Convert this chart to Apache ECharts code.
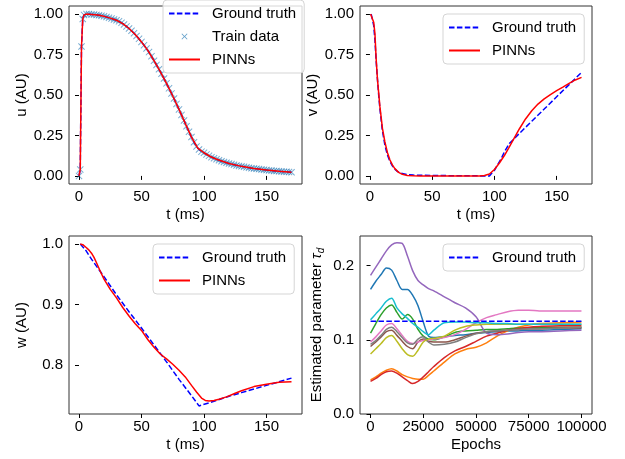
<!DOCTYPE html>
<html>
<head>
<meta charset="utf-8">
<script src="https://cdn.jsdelivr.net/npm/echarts@6/dist/echarts.min.js"></script>
<style>
  body { margin: 0; background: #fff; }
  #chart { width: 625px; height: 459px; }
</style>
</head>
<body>
<div id="chart"></div>
<script>
// u(t): ground truth / train samples
const tU = [0, 1, 2, 3, 4, 6, 8, 10, 12, 14, 16, 18, 20, 22, 24, 26, 28, 30, 32, 34, 36, 38, 40, 42, 44, 46, 48, 50,
  52, 54, 56, 58, 60, 62, 64, 66, 68, 70, 72, 74, 76, 78, 80, 82, 84, 86, 88, 90, 92, 94, 96, 98, 100,
  102, 104, 106, 108, 110, 112, 114, 116, 118, 120, 122, 124, 126, 128, 130, 132, 134, 136, 138, 140,
  142, 144, 146, 148, 150, 152, 154, 156, 158, 160, 162, 164, 166, 168, 170]
const uTrue = [0, 0.04, 0.80, 0.97, 0.995, 1.0, 1.0, 0.998, 0.997, 0.995, 0.993, 0.99, 0.986, 0.982, 0.977, 0.972, 0.967, 0.962, 0.955, 0.946, 0.936, 0.924, 0.911, 0.897, 0.882, 0.865, 0.847, 0.828,
  0.808, 0.787, 0.765, 0.740, 0.712, 0.686, 0.659, 0.631, 0.602, 0.572, 0.541, 0.510, 0.478, 0.445, 0.411, 0.377, 0.342, 0.307, 0.273, 0.240, 0.208, 0.182, 0.163, 0.150, 0.143,
  0.133, 0.124, 0.116, 0.109, 0.103, 0.097, 0.091, 0.086, 0.081, 0.077, 0.073, 0.069, 0.065, 0.062, 0.059, 0.056, 0.053, 0.050, 0.048, 0.046,
  0.044, 0.042, 0.040, 0.038, 0.036, 0.034, 0.033, 0.031, 0.030, 0.029, 0.027, 0.026, 0.025, 0.024, 0.023]
const tUp = [0, 1, 2, 3, 4, 6, 10, 15, 20, 25, 30, 35, 40, 45, 50, 55, 60, 65, 70, 75, 80, 85, 90, 95, 100, 105, 110, 120, 130, 140, 150, 160, 170]
const uPinn = [0, 0.04, 0.8, 0.97, 0.995, 1.0, 0.998, 0.994, 0.986, 0.975, 0.962, 0.941, 0.911, 0.874, 0.828, 0.776, 0.712, 0.645, 0.572, 0.494, 0.411, 0.325, 0.240, 0.172, 0.143, 0.120, 0.103, 0.077, 0.059, 0.046, 0.036, 0.029, 0.023]

// v(t)
const tV = [1, 2, 3, 4, 5, 6, 7, 8, 10, 12, 14, 16, 18, 20, 22, 25, 30, 35, 40, 50, 60, 70, 80, 90, 96, 100, 105, 108, 112, 120, 130, 140, 150, 160, 170]
const vTrue = [1.0, 1.0, 0.93, 0.84, 0.71, 0.6, 0.5, 0.415, 0.28, 0.19, 0.13, 0.09, 0.062, 0.042, 0.028, 0.016, 0.008, 0.005, 0.004, 0.003, 0.002, 0.001, 0.001, 0.0, 0.0, 0.035, 0.1, 0.148, 0.2, 0.262, 0.338, 0.413, 0.489, 0.564, 0.64]
const tVp = [0.5, 2, 3, 4, 5, 6, 8, 10, 12, 14, 16, 18, 20, 23, 26, 30, 35, 40, 50, 60, 70, 80, 88, 92, 96, 100, 104, 108, 112, 116, 120, 125, 130, 135, 140, 145, 150, 155, 160, 165, 170]
const vPinn = [1.0, 0.995, 0.95, 0.88, 0.72, 0.6, 0.428, 0.295, 0.21, 0.145, 0.1, 0.068, 0.045, 0.022, 0.01, 0.003, 0.001, 0, 0, 0, 0, 0, 0, 0.003, 0.012, 0.04, 0.08, 0.126, 0.18, 0.235, 0.29, 0.352, 0.403, 0.444, 0.476, 0.503, 0.527, 0.549, 0.572, 0.593, 0.609]

// w(t)
const tW = [1, 5, 10, 20, 30, 40, 50, 60, 70, 80, 90, 96, 110, 120, 130, 140, 150, 160, 170]
const wTrue = [1.0, 0.991, 0.975, 0.946, 0.916, 0.888, 0.861, 0.833, 0.805, 0.776, 0.749, 0.732, 0.741, 0.748, 0.754, 0.760, 0.766, 0.772, 0.778]
const tWp = [1, 3, 6, 8, 10, 12, 14, 17, 20, 25, 30, 35, 40, 45, 50, 55, 60, 65, 70, 75, 80, 85, 90, 94, 98, 101, 104, 108, 112, 118, 125, 130, 140, 150, 160, 170]
const wPinn = [1.0, 0.999, 0.994, 0.99, 0.985, 0.978, 0.969, 0.955, 0.942, 0.925, 0.911, 0.895, 0.881, 0.868, 0.857, 0.842, 0.829, 0.818, 0.81, 0.801, 0.791, 0.780, 0.766, 0.755, 0.745, 0.741, 0.740, 0.741, 0.743, 0.747, 0.753, 0.757, 0.764, 0.768, 0.771, 0.772]

// tau_d estimates over training
const epochs = [0, 2500, 5000, 7500, 10000, 12500, 15000, 17500, 20000, 22500, 25000, 27500, 30000, 35000, 40000, 45000, 50000, 55000, 60000, 65000, 70000, 75000, 80000, 90000, 100000]
const tauTrue = 0.125
const runs = [
  [0.168, 0.179, 0.188, 0.197, 0.194, 0.180, 0.168, 0.168, 0.160, 0.146, 0.124, 0.105, 0.103, 0.104, 0.106, 0.107, 0.109, 0.110, 0.111, 0.112, 0.112, 0.113, 0.113, 0.114, 0.115],
  [0.046, 0.050, 0.055, 0.059, 0.061, 0.058, 0.053, 0.050, 0.048, 0.047, 0.047, 0.052, 0.058, 0.070, 0.081, 0.087, 0.090, 0.096, 0.105, 0.112, 0.117, 0.120, 0.122, 0.123, 0.124],
  [0.109, 0.122, 0.134, 0.143, 0.147, 0.137, 0.128, 0.134, 0.128, 0.114, 0.105, 0.101, 0.100, 0.104, 0.110, 0.112, 0.113, 0.114, 0.114, 0.115, 0.116, 0.116, 0.117, 0.117, 0.117],
  [0.044, 0.048, 0.053, 0.057, 0.058, 0.055, 0.050, 0.045, 0.041, 0.044, 0.050, 0.057, 0.064, 0.076, 0.085, 0.091, 0.098, 0.105, 0.109, 0.113, 0.115, 0.117, 0.118, 0.119, 0.119],
  [0.187, 0.198, 0.209, 0.220, 0.228, 0.231, 0.230, 0.213, 0.193, 0.180, 0.174, 0.169, 0.166, 0.158, 0.150, 0.143, 0.131, 0.109, 0.107, 0.108, 0.110, 0.111, 0.111, 0.112, 0.113],
  [0.091, 0.097, 0.104, 0.111, 0.113, 0.106, 0.098, 0.091, 0.088, 0.097, 0.101, 0.098, 0.097, 0.097, 0.100, 0.105, 0.109, 0.111, 0.112, 0.113, 0.114, 0.115, 0.115, 0.116, 0.116],
  [0.097, 0.104, 0.112, 0.120, 0.122, 0.115, 0.106, 0.098, 0.095, 0.097, 0.099, 0.100, 0.101, 0.103, 0.107, 0.114, 0.123, 0.130, 0.134, 0.138, 0.140, 0.140, 0.139, 0.139, 0.139],
  [0.094, 0.099, 0.106, 0.114, 0.117, 0.111, 0.103, 0.096, 0.094, 0.101, 0.104, 0.097, 0.093, 0.094, 0.097, 0.103, 0.108, 0.111, 0.112, 0.113, 0.114, 0.115, 0.115, 0.116, 0.117],
  [0.081, 0.088, 0.095, 0.103, 0.106, 0.098, 0.088, 0.080, 0.078, 0.086, 0.097, 0.101, 0.102, 0.105, 0.113, 0.118, 0.120, 0.121, 0.121, 0.121, 0.121, 0.121, 0.121, 0.121, 0.121],
  [0.127, 0.135, 0.143, 0.152, 0.156, 0.143, 0.135, 0.129, 0.122, 0.117, 0.111, 0.107, 0.113, 0.123, 0.124, 0.124, 0.123, 0.123, 0.122, 0.122, 0.121, 0.121, 0.121, 0.121, 0.121]
]
const runColors = ['#1f77b4', '#ff7f0e', '#2ca02c', '#d62728', '#9467bd', '#8c564b', '#e377c2', '#7f7f7f', '#bcbd22', '#17becf']

const tTicks = [0, 50, 100, 150]
const uvTicks = [0, 0.25, 0.5, 0.75, 1.0]
const wTicks = [0.8, 0.9, 1.0]
const tauTicks = [0, 0.1, 0.2]
const epochTicks = [0, 25000, 50000, 75000, 100000]

const FONT = 'Liberation Sans, Arial, sans-serif'
const zip = (xs, ys) => xs.map((x, i) => [x, ys[i]])

function xAxis(gridIndex, min, max, ticks, name) {
  return {
    type: 'value', gridIndex, min, max, name,
    nameLocation: 'middle', nameGap: 23,
    nameTextStyle: { fontSize: 15, color: '#000', fontFamily: FONT },
    axisLine: { show: false },
    splitLine: { show: false },
    axisTick: { show: true, length: 4, customValues: ticks, lineStyle: { color: '#000' } },
    axisLabel: {
      customValues: ticks, margin: 5, fontSize: 15, color: '#000', fontFamily: FONT,
      formatter: (v) => String(v)
    }
  }
}

function yAxis(gridIndex, min, max, ticks, digits, name, nameGap, rich) {
  return {
    type: 'value', gridIndex, min, max, name,
    nameLocation: 'middle', nameGap,
    nameTextStyle: { fontSize: 15, color: '#000', fontFamily: FONT, rich },
    axisLine: { show: false },
    splitLine: { show: false },
    axisTick: { show: true, length: 4, customValues: ticks, lineStyle: { color: '#000' } },
    axisLabel: {
      customValues: ticks, margin: 6, fontSize: 15, color: '#000', fontFamily: FONT,
      formatter: (v) => v.toFixed(digits)
    }
  }
}

// line entries only show their line; the symbol of the legend icon is hidden
function legend(left, top, names, itemHeight) {
  return {
    left, top, orient: 'vertical', data: names,
    padding: [5, 8, 5, 5], itemGap: 6, itemWidth: 31, itemHeight: itemHeight || 10,
    itemStyle: { opacity: 0 },
    backgroundColor: 'rgba(255,255,255,0.8)', borderColor: '#d5d5d5', borderWidth: 1, borderRadius: 4,
    textStyle: { fontSize: 15, lineHeight: 17, color: '#000', fontFamily: FONT, padding: [0, 0, 0, 7] }
  }
}

const truthLine = (name, i, data) => ({
  name, type: 'line', xAxisIndex: i, yAxisIndex: i, data, symbol: 'none', z: 2,
  lineStyle: { color: '#0000ff', width: 1.5, type: [5.5, 2.4] }, itemStyle: { color: '#0000ff' }
})
const pinnLine = (i, data) => ({
  name: 'PINNs', type: 'line', xAxisIndex: i, yAxisIndex: i, data, symbol: 'none', z: 4,
  lineStyle: { color: '#ff0000', width: 1.5 }, itemStyle: { color: '#ff0000' }
})

const xMark = 'path://M1,0L5,4L9,0L10,1L6,5L10,9L9,10L5,6L1,10L0,9L4,5L0,1Z'

const series = [
  truthLine('Ground truth', 0, zip(tU, uTrue)),
  {
    name: 'Train data', type: 'scatter', xAxisIndex: 0, yAxisIndex: 0, z: 3,
    data: zip(tU, uTrue), symbol: xMark, symbolSize: 7,
    itemStyle: { color: '#1f77b4', opacity: 0.6 }
  },
  pinnLine(0, zip(tUp, uPinn)),
  truthLine('Ground truth', 1, zip(tV, vTrue)),
  pinnLine(1, zip(tVp, vPinn)),
  truthLine('Ground truth', 2, zip(tW, wTrue)),
  pinnLine(2, zip(tWp, wPinn))
]
runs.forEach((r, k) => {
  series.push({
    name: 'run' + k, type: 'line', xAxisIndex: 3, yAxisIndex: 3, data: zip(epochs, r),
    symbol: 'none', smooth: 0.3, z: 2,
    lineStyle: { color: runColors[k], width: 1.5 }, itemStyle: { color: runColors[k] }
  })
})
const st = truthLine('Ground truth', 3, [[0, tauTrue], [100000, tauTrue]])
st.z = 5
series.push(st)

const gridStyle = { show: true, borderColor: '#333', borderWidth: 1, backgroundColor: 'transparent' }

const chart = echarts.init(document.getElementById('chart'))
chart.setOption({
  animation: false,
  backgroundColor: '#fff',
  grid: [
    { left: 69, top: 6, width: 233, height: 178, ...gridStyle },
    { left: 360, top: 6, width: 232, height: 178, ...gridStyle },
    { left: 69, top: 236, width: 233, height: 178, ...gridStyle },
    { left: 360, top: 236, width: 232, height: 178, ...gridStyle }
  ],
  xAxis: [
    xAxis(0, -8, 178.4, tTicks, 't (ms)'),
    xAxis(1, -8, 178.4, tTicks, 't (ms)'),
    xAxis(2, -8, 178.4, tTicks, 't (ms)'),
    xAxis(3, -5000, 105000, epochTicks, 'Epochs')
  ],
  yAxis: [
    yAxis(0, -0.05, 1.05, uvTicks, 2, 'u (AU)', 40),
    yAxis(1, -0.05, 1.05, uvTicks, 2, 'v (AU)', 40),
    yAxis(2, 0.7186, 1.0134, wTicks, 1, 'w (AU)', 40),
    yAxis(3, 0, 0.24, tauTicks, 1, 'Estimated parameter {tau|τ}{sub|d}', 34, {
      tau: { fontSize: 15, fontStyle: 'italic', lineHeight: 18, color: '#000', fontFamily: FONT },
      sub: { fontSize: 10, fontStyle: 'italic', verticalAlign: 'bottom', color: '#000', fontFamily: FONT }
    })
  ],
  legend: [
    legend(163, 0, ['Ground truth', { name: 'Train data', itemStyle: { opacity: 0.7 } }, 'PINNs'], 6),
    legend(443, 14, ['Ground truth', 'PINNs']),
    legend(153, 244, ['Ground truth', 'PINNs']),
    legend(443, 244, ['Ground truth'])
  ],
  series
})
</script>
</body>
</html>
